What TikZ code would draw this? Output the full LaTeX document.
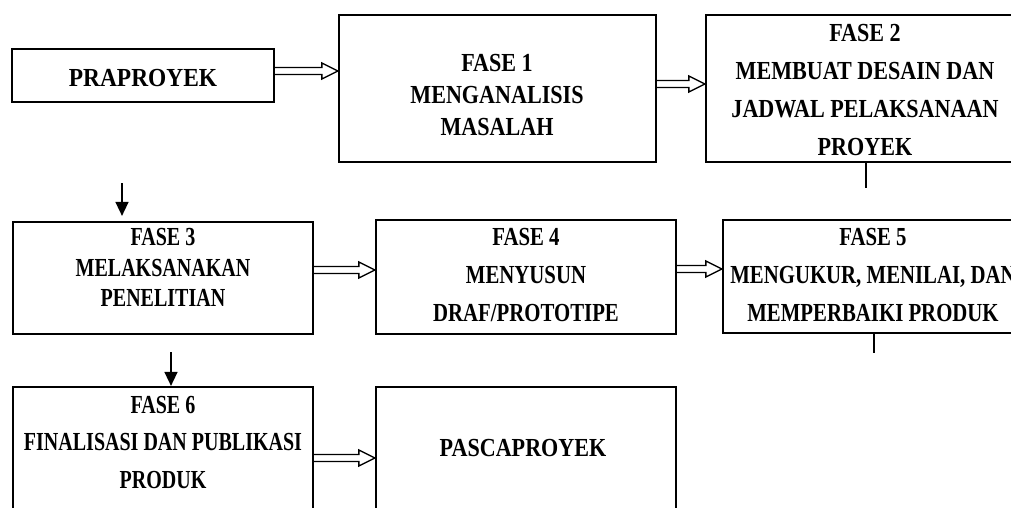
\documentclass[tikz,border=0pt]{standalone}
\usepackage{fontspec}
\usetikzlibrary{arrows.meta,calc}
\newfontfamily\tnr{Liberation Serif}[FakeStretch=0.85]
\newfontfamily\tnrw{Liberation Serif}[FakeStretch=0.9]
\newfontfamily\tnrm{Liberation Serif}[FakeStretch=0.8]
\newfontfamily\tnrn{Liberation Serif}[FakeStretch=0.77]
\tikzset{
  boxnode/.style={draw=black, line width=2.2pt, rectangle, inner sep=0pt, fill=white},
  txt/.style={font=\tnr\bfseries\fontsize{26}{#1}\selectfont, align=center, inner sep=0pt},
  txt/.default=38,
  txtw/.style={font=\tnrw\bfseries\fontsize{26}{38}\selectfont, align=center, inner sep=0pt},
  txtm/.style={font=\tnrm\bfseries\fontsize{26}{#1}\selectfont, align=center, inner sep=0pt},
  txtm/.default=38,
  txtn/.style={font=\tnrn\bfseries\fontsize{26}{#1}\selectfont, align=center, inner sep=0pt},
  txtn/.default=38,
  hollow/.style={draw=black, line width=1.4pt, fill=white, line join=miter},
  downarr/.style={draw=black, line width=1.5pt, -{Triangle[length=14pt,width=13pt]}},
  tick/.style={draw=black, line width=2.6pt}
}
\newcommand\hollowarrow[2]{%
  \draw[hollow] let \p1=(#1), \p2=(#2) in
    (\x1,\y1+3.5pt) -- (\x2-16pt,\y1+3.5pt) -- (\x2-16pt,\y1+8pt) -- (\x2,\y1)
    -- (\x2-16pt,\y1-8pt) -- (\x2-16pt,\y1-3.5pt) -- (\x1,\y1-3.5pt);}
\begin{document}
\begin{tikzpicture}[x=1pt,y=-1pt]
\path[use as bounding box] (0,0) rectangle (1011,508);
\clip (0,0) rectangle (1011,508);
% boxes
\node[boxnode, minimum width=262pt, minimum height=53pt] (pra) at (143,75.5) {};
\node[boxnode, minimum width=317pt, minimum height=147pt] (f1) at (497.5,88.5) {};
\node[boxnode, minimum width=318pt, minimum height=147pt] (f2) at (865,88.5) {};
\node[boxnode, minimum width=300pt, minimum height=112pt] (f3) at (163,278) {};
\node[boxnode, minimum width=300pt, minimum height=114pt] (f4) at (526,277) {};
\node[boxnode, minimum width=300pt, minimum height=113pt] (f5) at (873,276.5) {};
\node[boxnode, minimum width=300pt, minimum height=143pt] (f6) at (163,458.5) {};
\node[boxnode, minimum width=300pt, minimum height=143pt] (pasca) at (526,458.5) {};
% texts
\node[txtw] (tpra) at (143,78) {PRAPROYEK};
\node[txt=32] (tf1) at (497,95) {FASE 1\\MENGANALISIS\\MASALAH};
\node[txt] (tf2) at (865,90) {FASE 2\\MEMBUAT DESAIN DAN\\JADWAL PELAKSANAAN\\PROYEK};
\node[txtn=30.5] (tf3) at (163,267.5) {FASE 3\\MELAKSANAKAN\\PENELITIAN};
\node[txtm] (tf4) at (526,275) {FASE 4\\MENYUSUN\\DRAF/PROTOTIPE};
\node[txtm] (tf5) at (873,275) {FASE 5\\MENGUKUR, MENILAI, DAN\\MEMPERBAIKI PRODUK};
\node[txtn=37.5] (tf6) at (163,442.5) {FASE 6\\FINALISASI DAN PUBLIKASI\\PRODUK};
\node[txt] (tpasca) at (523,448) {PASCAPROYEK};
% hollow arrows
\hollowarrow{$(pra.east)+(0,-4.5)$}{f1.west}
\hollowarrow{$(f1.east)+(0,-4.5)$}{f2.west}
\hollowarrow{$(f3.east)+(0,-8)$}{f4.west}
\hollowarrow{$(f4.east)+(0,-8)$}{f5.west}
\hollowarrow{$(f6.east)+(0,-0.5)$}{pasca.west}
% down arrows
\coordinate (d3) at (122,183);
\coordinate (d6) at (171,352);
\draw[downarr, shorten >=5pt] (d3) -- (d3 |- f3.north);
\draw[downarr] (d6) -- (d6 |- f6.north);
% ticks
\coordinate (k2) at (866,188);
\coordinate (k5) at (874,353);
\draw[tick] (k2 |- f2.south) -- (k2);
\draw[tick] (k5 |- f5.south) -- (k5);
\end{tikzpicture}
\end{document}
